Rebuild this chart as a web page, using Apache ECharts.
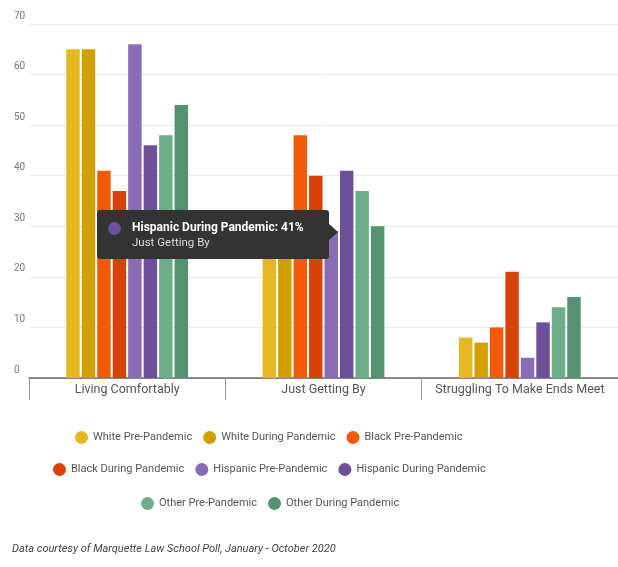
<!DOCTYPE html>
<html>
<head>
<meta charset="utf-8">
<script src="https://cdn.jsdelivr.net/npm/echarts@6/dist/echarts.min.js"></script>
<style>
html,body{margin:0;padding:0;background:#fff;}
#chart{width:618px;height:567px;}
#foot{position:absolute;left:12px;top:542px;font-family:Roboto,"Noto Sans",sans-serif;font-style:italic;font-size:11px;color:#444;}
</style>
</head>
<body>
<div id="chart"></div>
<div id="foot">Data courtesy of Marquette Law School Poll, January - October 2020</div>
<script>
const categories = ['Living Comfortably', 'Just Getting By', 'Struggling To Make Ends Meet'];
const seriesNames = ['White Pre-Pandemic', 'White During Pandemic', 'Black Pre-Pandemic', 'Black During Pandemic',
  'Hispanic Pre-Pandemic', 'Hispanic During Pandemic', 'Other Pre-Pandemic', 'Other During Pandemic'];
const whitePre = [65, 27, 8];
const whiteDuring = [65, 28, 7];
const blackPre = [41, 48, 10];
const blackDuring = [37, 40, 21];
const hispanicPre = [66, 29, 4];
const hispanicDuring = [46, 41, 11];
const otherPre = [48, 37, 14];
const otherDuring = [54, 30, 16];
const yTicks = [0, 10, 20, 30, 40, 50, 60, 70];
const colors = ['#E5B822', '#CFA000', '#F25A05', '#D84205', '#8A6CB4', '#6E509A', '#6DAE8A', '#55926F'];
const allValues = [whitePre, whiteDuring, blackPre, blackDuring, hispanicPre, hispanicDuring, otherPre, otherDuring];

const chart = echarts.init(document.getElementById('chart'));
const font = 'Roboto, "Noto Sans", sans-serif';
const legendBase = {
  icon: 'circle', itemWidth: 13, itemHeight: 13, itemGap: 11,
  textStyle: { fontFamily: font, fontSize: 11, color: '#555' }
};
chart.setOption({
  animation: false,
  color: colors,
  grid: { left: 29, width: 594, top: 24, bottom: 189 },
  tooltip: {
    trigger: 'item',
    alwaysShowContent: true,
    transitionDuration: 0,
    backgroundColor: '#333',
    borderWidth: 0,
    padding: 0,
    borderRadius: 3,
    extraCssText: 'box-shadow:none;overflow:visible;',
    position: function () { return [97, 210]; },
    formatter: function (p) {
      return '<div style="position:relative;width:232px;height:49px;box-sizing:border-box;padding:10px 0 0 35px;font-family:Roboto,sans-serif;">' +
        '<span style="position:absolute;left:11px;top:12px;width:13px;height:13px;border-radius:50%;background:' + p.color + ';"></span>' +
        '<div style="color:#fff;font-weight:bold;font-size:12px;line-height:15px;">' + p.seriesName + ': ' + p.value + '%</div>' +
        '<div style="color:#ddd;font-size:11.5px;line-height:15px;">' + p.name + '</div>' +
        '<span style="position:absolute;right:-9px;top:14px;width:0;height:0;border-top:8px solid transparent;border-bottom:8px solid transparent;border-left:9px solid #333;"></span>' +
        '</div>';
    }
  },
  legend: [
    Object.assign({ data: seriesNames.slice(0, 3), top: 426, left: 70 }, legendBase),
    Object.assign({ data: seriesNames.slice(3, 6), top: 458, left: 48 }, legendBase),
    Object.assign({ data: seriesNames.slice(6, 8), top: 492, left: 136 }, legendBase)
  ],
  xAxis: {
    type: 'category',
    data: categories,
    axisLine: { lineStyle: { color: '#666', width: 1.5 } },
    axisTick: { show: true, interval: 0, length: 22, lineStyle: { color: '#999', width: 1 } },
    axisLabel: { interval: 0, hideOverlap: false, fontFamily: font, fontSize: 12.5, color: '#555', margin: 5 }
  },
  yAxis: {
    type: 'value',
    min: yTicks[0], max: yTicks[yTicks.length - 1], interval: 10,
    axisLine: { show: false },
    axisTick: { show: false },
    splitLine: { lineStyle: { color: '#e9e9e9' } },
    axisLabel: {
      fontFamily: font, fontSize: 10, color: '#777',
      align: 'left', margin: 15, verticalAlign: 'bottom', padding: [0, 0, 3, 0]
    }
  },
  series: seriesNames.map((name, i) => ({
    name: name,
    type: 'bar',
    data: allValues[i],
    barGap: '15%',
    barCategoryGap: '38%'
  }))
});
chart.dispatchAction({ type: 'showTip', seriesIndex: 5, dataIndex: 1 });
</script>
</body>
</html>
